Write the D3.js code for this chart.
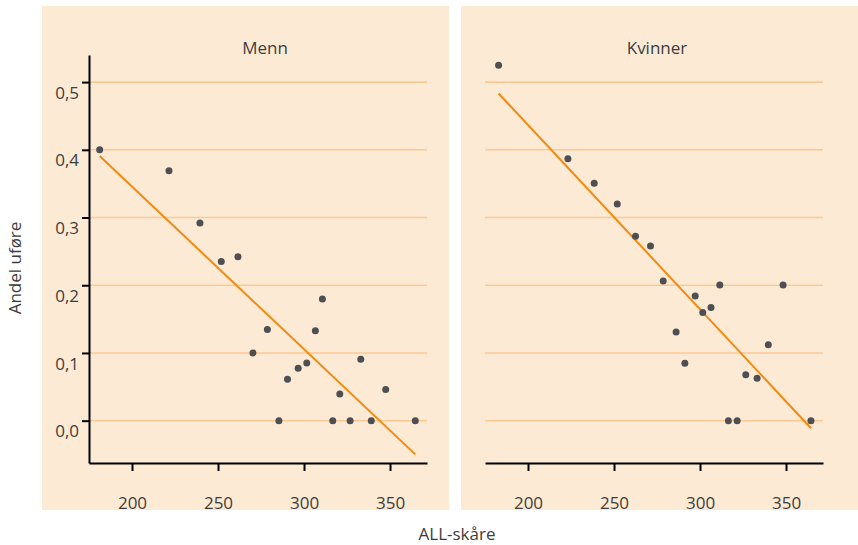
<!DOCTYPE html>
<html>
<head>
<meta charset="utf-8">
<script src="https://cdn.jsdelivr.net/npm/d3@7"></script>
<style>
  body { margin: 0; background: #ffffff; }
  svg text { font-family: "Open Sans", "Noto Sans", sans-serif; fill: #3d3d3d; }
</style>
</head>
<body>
<svg id="chart" width="858" height="545"></svg>
<script>
// ALL-skåre (x) and andel uføre (y) per group
const mennScore = [181.2, 221.5, 239.5, 251.9, 261.6, 270.3, 278.7, 285.4, 290.4, 296.6,
                   301.6, 306.6, 310.7, 316.7, 320.8, 326.8, 333.0, 339.1, 347.5, 364.7];
const mennShare = [0.400, 0.369, 0.292, 0.235, 0.242, 0.100, 0.1346, 0, 0.061, 0.0775,
                   0.085, 0.1327, 0.1796, 0, 0.0395, 0, 0.0908, 0, 0.0459, 0];

const kvinnerScore = [182.9, 223.2, 238.5, 251.9, 262.5, 271.2, 278.6, 286.1, 291.2, 297.2,
                      301.6, 306.4, 311.5, 316.5, 321.6, 326.6, 333.2, 339.7, 348.3, 364.5];
const kvinnerShare = [0.5247, 0.3867, 0.3506, 0.3201, 0.2722, 0.258, 0.2062, 0.1308, 0.0849, 0.184,
                      0.1598, 0.1672, 0.2003, 0, 0, 0.068, 0.0627, 0.112, 0.2003, 0];

const panelTitles = ["Menn", "Kvinner"];
const yTicks = [0, 0.1, 0.2, 0.3, 0.4, 0.5];
const xTicks = [200, 250, 300, 350];
const yAxisTitle = "Andel uføre";
const xAxisTitle = "ALL-skåre";

const panels = [
  { title: panelTitles[0], xs: mennScore, ys: mennShare, bg: [42, 449], plot: [89, 427], titleX: 265, yAxis: true },
  { title: panelTitles[1], xs: kvinnerScore, ys: kvinnerShare, bg: [461, 858], plot: [485, 823], titleX: 657, yAxis: false }
];

const FS = 17;
const svg = d3.select("#chart");
const fmt = d => d3.format(".1f")(d).replace(".", ",");

const y = d3.scaleLinear().domain([-0.0625, 0.54]).range([463, 55]);

// least squares fit
function ols(xs, ys) {
  const mx = d3.mean(xs), my = d3.mean(ys);
  let sxy = 0, sxx = 0;
  xs.forEach((v, i) => { sxy += (v - mx) * (ys[i] - my); sxx += (v - mx) * (v - mx); });
  const b = sxy / sxx;
  return { a: my - b * mx, b };
}

panels.forEach(p => {
  const g = svg.append("g");
  g.append("rect")
    .attr("x", p.bg[0]).attr("y", 6)
    .attr("width", p.bg[1] - p.bg[0]).attr("height", 504)
    .attr("fill", "#fdead5");

  const x = d3.scaleLinear().domain([175, 371.5]).range(p.plot);

  // horizontal grid
  g.selectAll("line.grid").data(yTicks).join("line")
    .attr("class", "grid")
    .attr("x1", p.plot[0]).attr("x2", p.plot[1])
    .attr("y1", d => y(d)).attr("y2", d => y(d))
    .attr("stroke", "#fcc994").attr("stroke-width", 1.6);

  // panel title
  g.append("text")
    .attr("x", p.titleX).attr("y", 54)
    .attr("text-anchor", "middle")
    .attr("font-size", FS)
    .text(p.title);

  // x axis
  const xAxis = g.append("g").attr("transform", "translate(0,463)")
    .call(d3.axisBottom(x).tickValues(xTicks).tickSize(8).tickSizeOuter(0).tickPadding(26));
  xAxis.select(".domain").attr("stroke", "#000").attr("stroke-width", 2);
  xAxis.selectAll(".tick line").attr("stroke", "#000").attr("stroke-width", 2);
  xAxis.selectAll(".tick text").attr("font-size", FS).attr("font-family", null).attr("fill", "#3d3d3d");

  if (p.yAxis) {
    const yAxis = g.append("g").attr("transform", `translate(${p.plot[0]},0)`)
      .call(d3.axisLeft(y).tickValues(yTicks).tickFormat(fmt).tickSize(7).tickSizeOuter(0).tickPadding(3));
    yAxis.select(".domain").attr("stroke", "#000").attr("stroke-width", 2);
    yAxis.selectAll(".tick line").attr("stroke", "#000").attr("stroke-width", 2);
    yAxis.selectAll(".tick text").attr("font-size", FS).attr("font-family", null)
      .attr("fill", "#3d3d3d").attr("dy", "0.95em");
  }

  // regression line over the observed score range
  const fit = ols(p.xs, p.ys);
  const ext = d3.extent(p.xs);
  g.append("line")
    .attr("x1", x(ext[0])).attr("y1", y(fit.a + fit.b * ext[0]))
    .attr("x2", x(ext[1])).attr("y2", y(fit.a + fit.b * ext[1]))
    .attr("stroke", "#f28a10").attr("stroke-width", 2);

  // points
  g.selectAll("circle").data(p.xs.map((v, i) => [v, p.ys[i]])).join("circle")
    .attr("cx", d => x(d[0])).attr("cy", d => y(d[1]))
    .attr("r", 3.5).attr("fill", "#4d4f52");
});

svg.append("text")
  .attr("transform", "translate(21,268) rotate(-90)")
  .attr("text-anchor", "middle").attr("font-size", FS)
  .text(yAxisTitle);

svg.append("text")
  .attr("x", 457).attr("y", 540)
  .attr("text-anchor", "middle").attr("font-size", FS)
  .text(xAxisTitle);
</script>
</body>
</html>
